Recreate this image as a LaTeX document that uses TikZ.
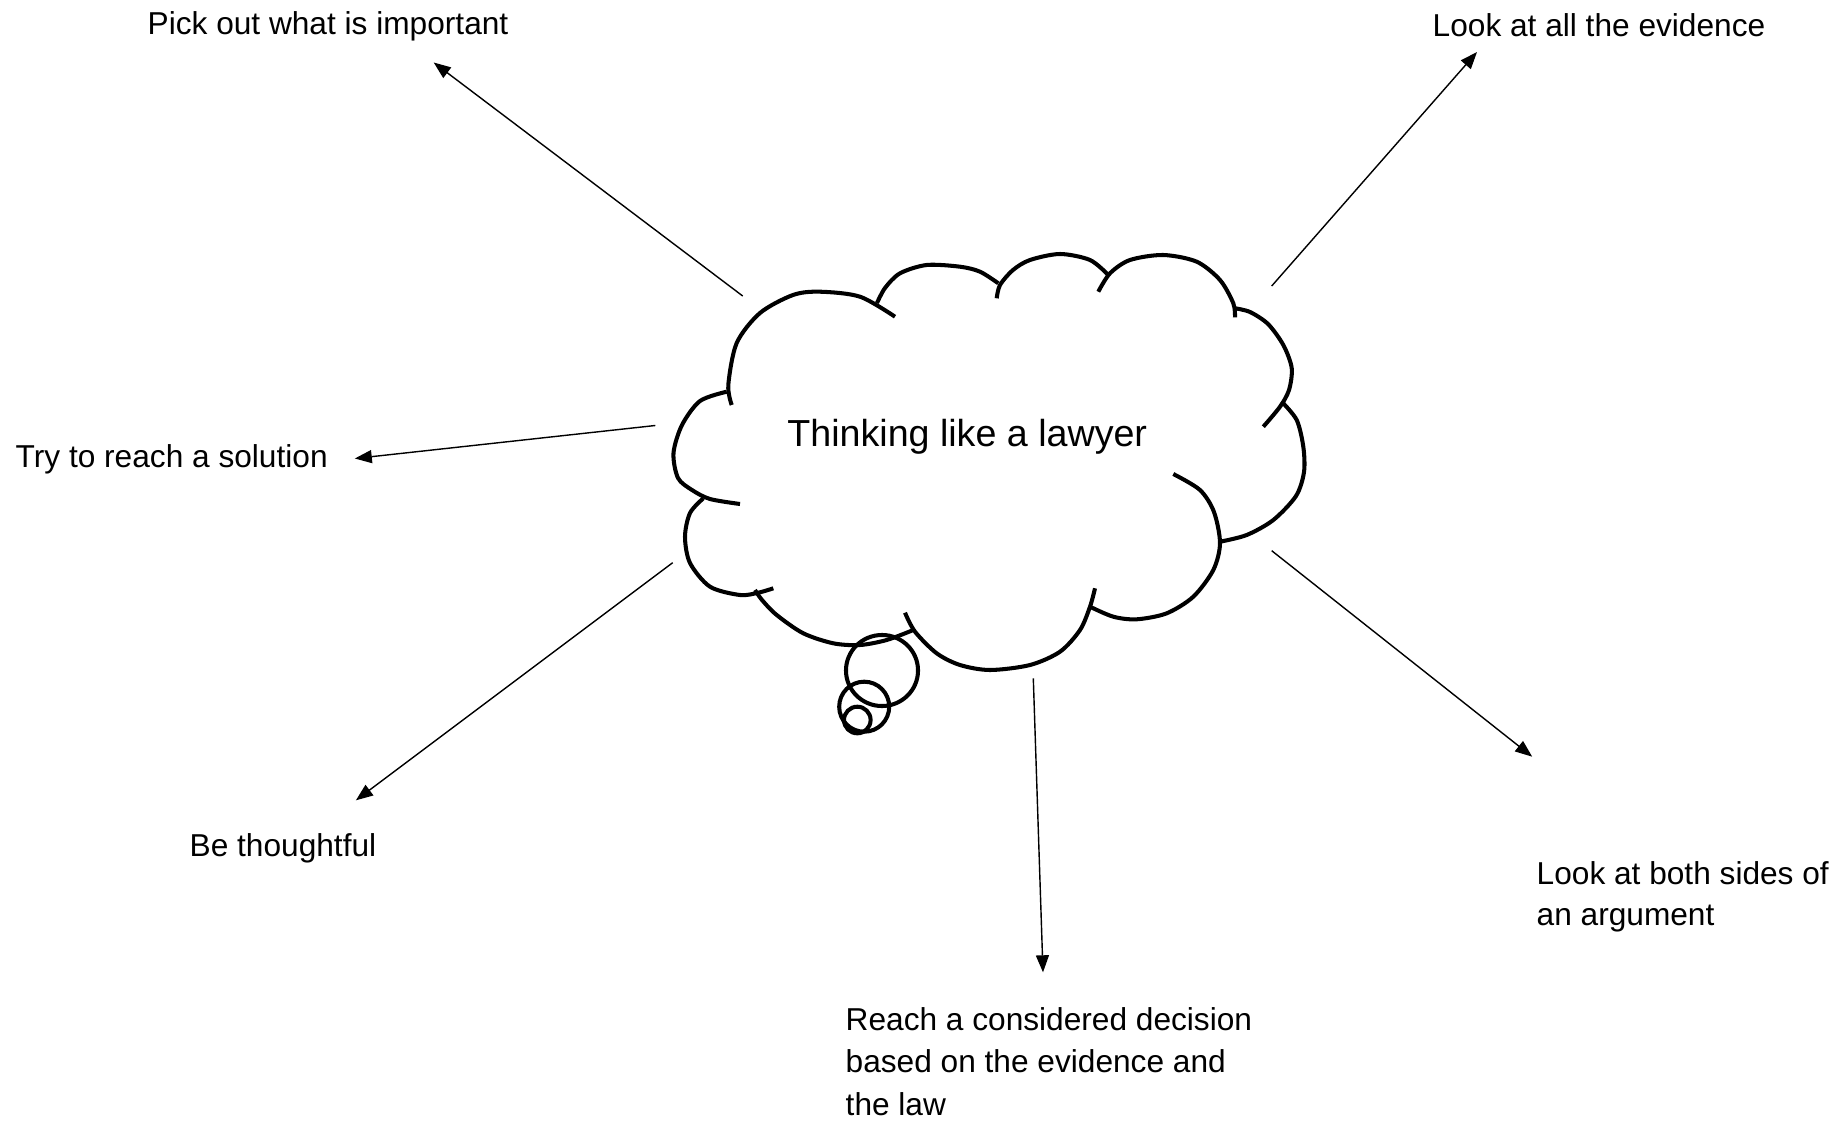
\documentclass[tikz,border=0pt]{standalone}
\usepackage{fontspec}
\setmainfont{Liberation Sans}
\usetikzlibrary{arrows.meta}
\tikzset{
  idea/.style={inner sep=0pt,anchor=base west,align=left,font=\fontsize{9}{11}\selectfont},
  puff/.style={line width=1.15pt},
  flow/.style={-{Triangle[length=1.7mm,width=1.3mm]},line width=.4pt},
}
\begin{document}
\begin{tikzpicture}[x=0.01cm,y=-0.01cm]
  \useasboundingbox (0,0) rectangle (1848,1121);
  % the thought cloud
  \draw[puff] plot[smooth] coordinates {(731.7,405) (728.3,385) (736.7,343) (760,313) (793,295) (820,291.7) (860,296.7) (895,316.7)};
  \draw[puff] plot[smooth] coordinates {(877,303) (885,288) (900,273.3) (926.7,265) (960,266.7) (980,271.7) (998.3,283.3)};
  \draw[puff] plot[smooth] coordinates {(996.7,298.3) (1000,285) (1013,270) (1030,260) (1060,254) (1090,260) (1108.3,275)};
  \draw[puff] plot[smooth] coordinates {(1098.3,291.7) (1110,273.3) (1130,260) (1163.3,255) (1196.7,261.7) (1220,280) (1233.3,303.3) (1235,317.3)};
  \draw[puff] plot[smooth] coordinates {(1235,308.3) (1250,312) (1268,324) (1283.3,345) (1291.7,368) (1289,390) (1280,406.7) (1263.3,426.7)};
  \draw[puff] plot[smooth] coordinates {(1281.7,401.7) (1296.7,420) (1303.3,446.7) (1304,472) (1296,496) (1273.3,520) (1246.7,535) (1220,541.7)};
  \draw[puff] plot[smooth] coordinates {(1173.3,474) (1200,490) (1214,512) (1220,543.3) (1213.3,570) (1193.3,596.7) (1166.7,613.3) (1136.7,619.3) (1113.3,616.7) (1090,606.7)};
  \draw[puff] plot[smooth] coordinates {(905,612.7) (915,631.7) (936.7,653.3) (960,665) (990,670) (1030,665) (1060,651.7) (1080,630) (1090,606.7) (1095,588.3)};
  \draw[puff] plot[smooth] coordinates {(755,590) (762,600) (776.7,615) (803.3,633.3) (833.3,643.3) (860,645) (886.7,640) (913.3,630)};
  \draw[puff] plot[smooth] coordinates {(703.3,498.3) (690,513) (685,536.7) (690,563) (710,586.7) (740,595) (758.3,592.7) (773.3,588.3)};
  \draw[puff] plot[smooth] coordinates {(726.7,391.7) (700,401) (682,425) (673.5,453) (678,478) (692,490) (710,499) (740,504)};
  \draw[puff] (882,670.5) ellipse [x radius=.36cm,y radius=.355cm];
  \draw[puff] (864.2,706.7) circle [radius=.25cm];
  \draw[puff] (857.3,720) circle [radius=.133cm];
  \node[idea,font=\fontsize{10.7}{13}\selectfont] (lawyer) at (786.7,446.7) {Thinking like a lawyer};
  % the six labels (multi-line ones sit on their last baseline)
  \node[idea] (pick) at (147,34.5) {Pick out what is important};
  \node[idea] (evidence) at (1432,36) {Look at all the evidence};
  \node[idea] (solution) at (15,467) {Try to reach a solution};
  \node[idea] (thoughtful) at (189,856) {Be thoughtful};
  \node[idea,font=\fontsize{9}{11.4}\selectfont] (sides) at (1536,925) {Look at both sides of\\an argument};
  \node[idea,font=\fontsize{9}{12}\selectfont] (decision) at (845,1115) {Reach a considered decision\\based on the evidence and\\the law};
  % arrow ends
  \coordinate (pick-tail) at (742.7,296);        \coordinate (pick-tip) at (433.7,62.5);
  \coordinate (evidence-tail) at (1271.7,286);   \coordinate (evidence-tip) at (1477,52);
  \coordinate (solution-tail) at (655.3,425.5);  \coordinate (solution-tip) at (354.8,458.5);
  \coordinate (thoughtful-tail) at (672.7,562.7);\coordinate (thoughtful-tip) at (355.9,800.3);
  \coordinate (sides-tail) at (1271.7,550.7);    \coordinate (sides-tip) at (1532.2,756.7);
  \coordinate (decision-tail) at (1033.3,678.3); \coordinate (decision-tip) at (1043,972.3);
  \foreach \n in {pick,evidence,solution,thoughtful,sides,decision}
    \draw[flow] (\n-tail) -- (\n-tip);
\end{tikzpicture}
\end{document}
